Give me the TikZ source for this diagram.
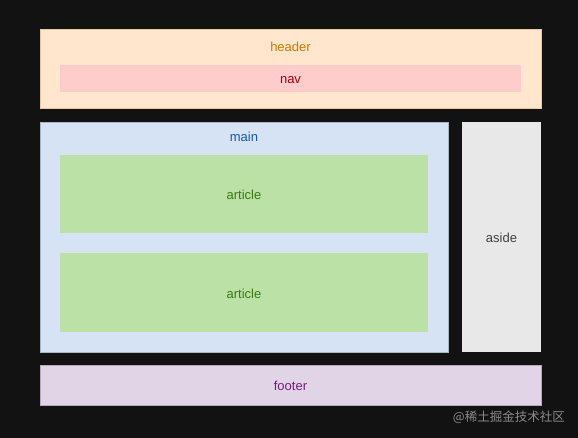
\documentclass[tikz,border=0pt]{standalone}
\usepackage{fontspec}
\setmainfont{Liberation Sans}
\newfontfamily\cjk{Noto Sans CJK SC}
\definecolor{bgc}{HTML}{121212}
\definecolor{headfill}{HTML}{FFE6CC}
\definecolor{headtext}{HTML}{D07A00}
\definecolor{navfill}{HTML}{FFCCCC}
\definecolor{navtext}{HTML}{A50010}
\definecolor{mainfill}{HTML}{D5E3F5}
\definecolor{maintext}{HTML}{1058A8}
\definecolor{artfill}{HTML}{BBE1A6}
\definecolor{arttext}{HTML}{3A7A12}
\definecolor{asidefill}{HTML}{E8E8E8}
\definecolor{asidetext}{HTML}{404040}
\definecolor{footfill}{HTML}{E1D4E7}
\definecolor{foottext}{HTML}{7A1A80}
\definecolor{wmtext}{HTML}{8A8A8A}
\tikzset{
  lbl/.style={font=\fontsize{13}{15}\selectfont, inner sep=0pt, anchor=base},
}
\begin{document}
\begin{tikzpicture}[x=1pt,y=-1pt]
\fill[bgc] (0,0) rectangle (578,438);
\useasboundingbox (0,0) rectangle (578,438);
% header
\filldraw[fill=headfill, draw=headfill!70!brown, line width=0.4pt] (40,29) rectangle (541,108);
\node[lbl, text=headtext] (headerlbl) at (290.5,51.5) {header};
% nav
\fill[navfill] (60,65) rectangle (521,92);
\node[lbl, text=navtext] (navlbl) at (290.5,84) {nav};
% main
\filldraw[fill=mainfill, draw=mainfill!80!black, line width=0.3pt] (40,122) rectangle (448,352);
\node[lbl, text=maintext] (mainlbl) at (244,142) {main};
% articles
\fill[artfill] (60,155) rectangle (428,233);
\node[lbl, text=arttext] (art1) at (244,199.5) {article};
\fill[artfill] (60,253) rectangle (428,332);
\node[lbl, text=arttext] (art2) at (244,298.5) {article};
% aside
\fill[asidefill] (462,122) rectangle (541,352);
\node[lbl, text=asidetext] (asidelbl) at (501.5,242.5) {aside};
% footer
\filldraw[fill=footfill, draw=footfill!80!black, line width=0.3pt] (40,365) rectangle (541,405);
\node[lbl, text=foottext] (footlbl) at (290.5,390) {footer};
% watermark
\node[font=\cjk\fontsize{12.5}{14}\selectfont, text=wmtext, anchor=base east, inner sep=0pt] (wm) at (565,421) {@稀土掘金技术社区};
\end{tikzpicture}
\end{document}
